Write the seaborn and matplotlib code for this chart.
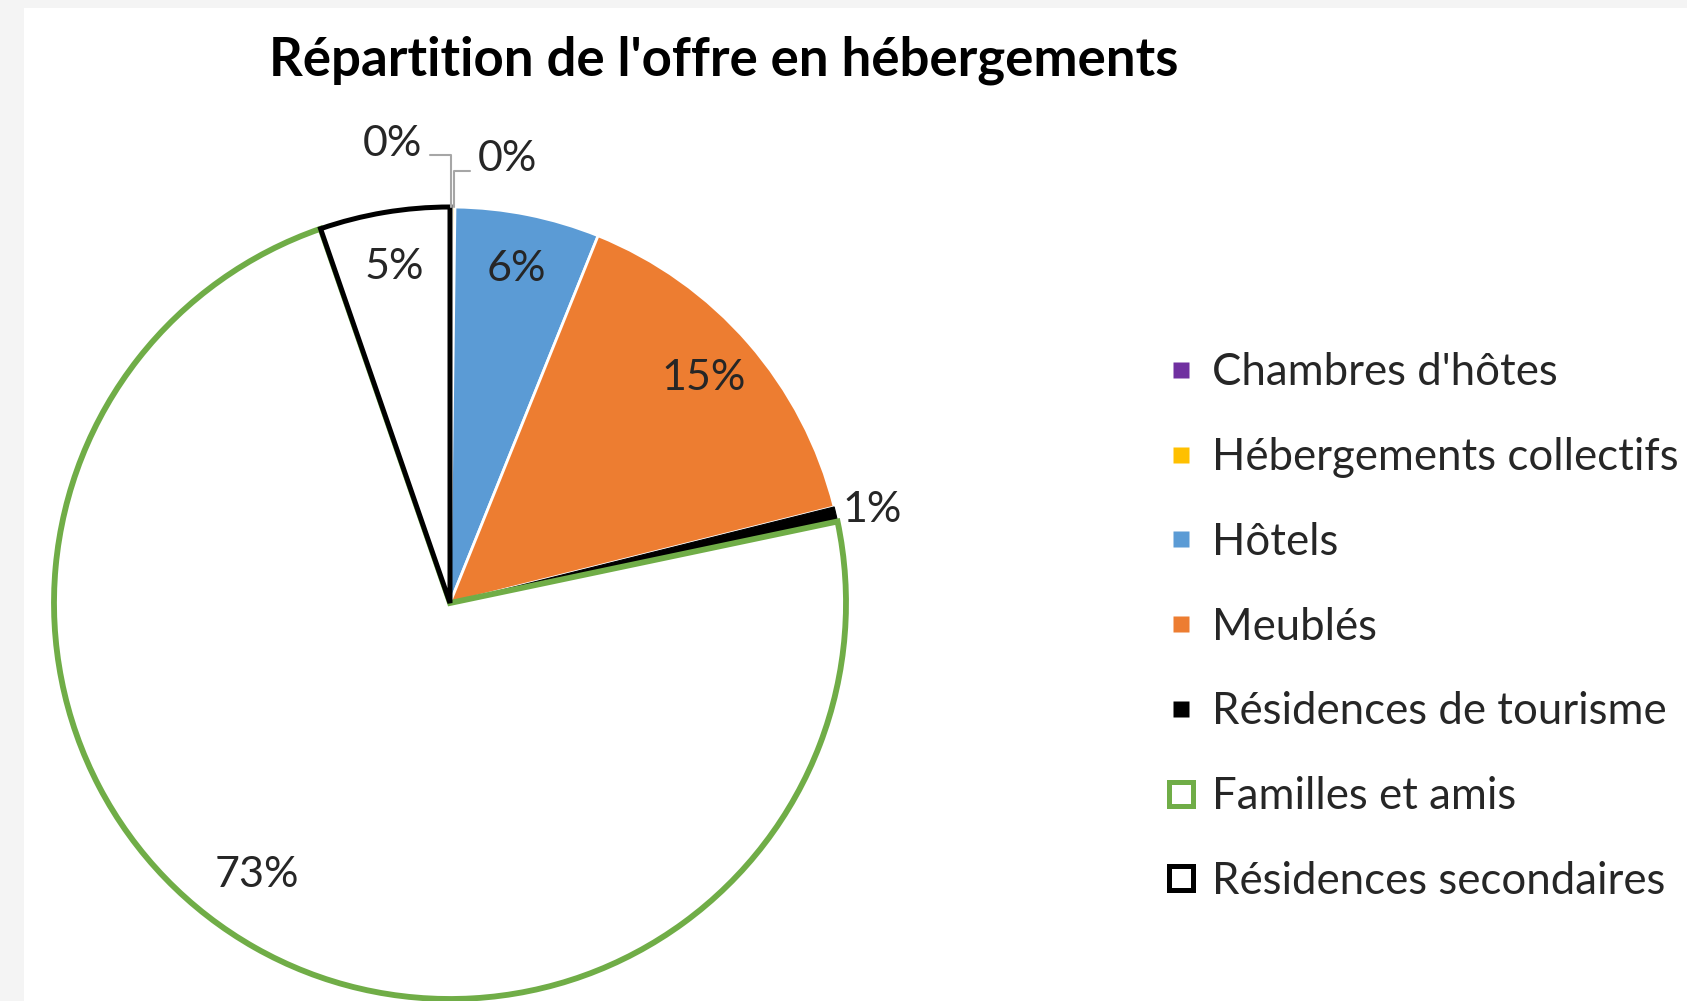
import numpy as np
import matplotlib
matplotlib.use("Agg")
import matplotlib.pyplot as plt
from matplotlib.lines import Line2D
from matplotlib.patches import Rectangle
import seaborn as sns

# Data (share of accommodation offer, %)
categories = ["Chambres d'hôtes", "Hébergements collectifs", "Hôtels", "Meublés",
              "Résidences de tourisme", "Familles et amis", "Résidences secondaires"]
values = [0.1, 0.1, 5.9, 15.0, 0.6, 73.0, 5.3]
fill_colors = ["#7030A0", "#FFC000", "#5B9BD5", "#ED7D31", "#000000", "#FFFFFF", "#FFFFFF"]
edge_colors = ["#FFFFFF", "#FFFFFF", "#FFFFFF", "#FFFFFF", "#000000", "#70AD47", "#000000"]
title = "Répartition de l'offre en hébergements"

sns.set_theme(style="white")
plt.rcParams['font.family'] = ['Lato', 'DejaVu Sans']
text_col = "#262626"

W, H = 1687, 1001
fig = plt.figure(figsize=(W / 100, H / 100), dpi=100)
fig.patch.set_facecolor("#F4F4F4")
fig.patches.append(Rectangle((24 / W, 0), 1 - 24 / W, 1 - 8 / H, transform=fig.transFigure,
                             facecolor="white", edgecolor="none", zorder=-10))

# pie axes: centre (450, 603) px, radius 396 px
cx, cy, r = 450, 603, 396
ax = fig.add_axes([(cx - r) / W, (H - cy - r) / H, 2 * r / W, 2 * r / H])
ax.set_facecolor("none")

wedges, _ = ax.pie(values, startangle=90, counterclock=False, radius=1.0,
                   colors=fill_colors)
lws = [1.5, 1.5, 2, 2, 0.8, 4.2, 3.6]
for w, ec, lw in zip(wedges, edge_colors, lws):
    w.set_edgecolor(ec)
    w.set_linewidth(lw)
    w.set_joinstyle("miter")
ax.set_xlim(-1, 1)
ax.set_ylim(-1, 1)
ax.set_aspect("equal")
ax.axis("off")

# percentage labels
fs_lab = 31
small_pos = {0: ((-0.07, 1.16), "right", (1, 0.2)),
             1: ((0.07, 1.12), "left", (0, 0.2)),
             4: ((0.99, 0.236), "left", None)}
for i, (w, v) in enumerate(zip(wedges, values)):
    lab = f"{round(v)}%"
    ang = np.deg2rad((w.theta1 + w.theta2) / 2)
    if i in small_pos:
        pos, ha, rel = small_pos[i]
        if rel is None:
            ax.text(pos[0], pos[1], lab, ha=ha, va="center", fontsize=fs_lab, color=text_col,
                    clip_on=False)
        else:
            ax.annotate(lab, xy=(np.cos(ang), np.sin(ang)), xytext=pos, ha=ha, va="center",
                        fontsize=fs_lab, color=text_col, annotation_clip=False,
                        arrowprops=dict(arrowstyle="-", color="#A6A6A6", lw=1.5,
                                        relpos=rel, shrinkA=3, shrinkB=0,
                                        connectionstyle="angle,angleA=0,angleB=90,rad=0"))
    else:
        d = 0.85
        if i == 5:
            ang = np.deg2rad(235)
        ax.text(d * np.cos(ang), d * np.sin(ang) + 0.01, lab, ha="center", va="center",
                fontsize=fs_lab, color=text_col)

fig.text(724 / W, 1 - 60 / H, title, ha="center", va="center", fontsize=38,
         fontweight="bold", color="black")

# legend
handles = []
for i, cat in enumerate(categories):
    if fill_colors[i] == "#FFFFFF":
        handles.append(Line2D([0], [0], marker="s", linestyle="none", markersize=17,
                              markerfacecolor="white", markeredgecolor=edge_colors[i],
                              markeredgewidth=3.6))
    else:
        handles.append(Line2D([0], [0], marker="s", linestyle="none", markersize=11,
                              markerfacecolor=fill_colors[i], markeredgecolor="none"))
leg = fig.legend(handles, categories, loc="center left",
                 bbox_to_anchor=(1163 / W, 1 - 627 / H), frameon=False,
                 fontsize=31.5, labelspacing=1.0, handlelength=0.8, handletextpad=0.32,
                 borderpad=0, borderaxespad=0)
for t in leg.get_texts():
    t.set_color(text_col)

fig.savefig("out.png", dpi=100, facecolor=fig.get_facecolor())
